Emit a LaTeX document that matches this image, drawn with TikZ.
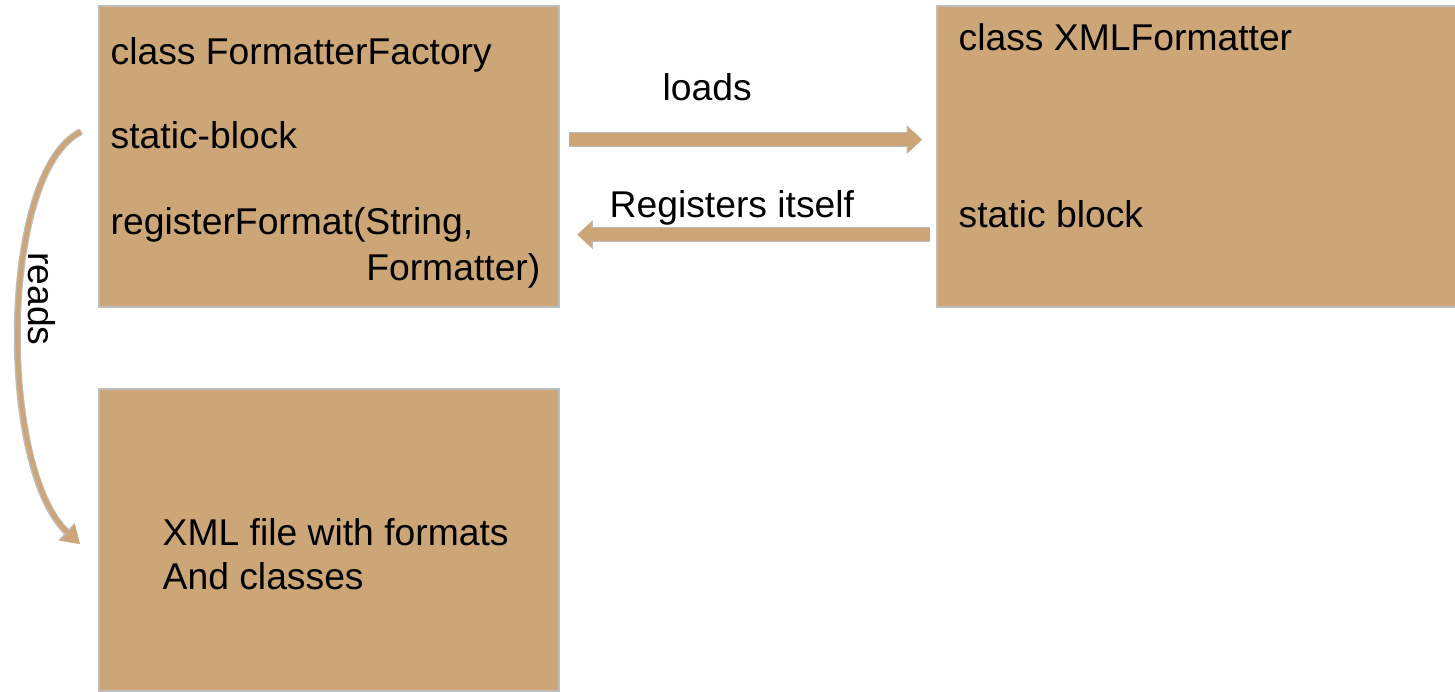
\documentclass[tikz,border=0pt]{standalone}
\usepackage{fontspec}
\setmainfont{Liberation Sans}
\usetikzlibrary{arrows.meta,calc,positioning}

\definecolor{boxtan}{HTML}{CCA677}
\definecolor{edgegray}{HTML}{BDBDBD}

\begin{document}
\begin{tikzpicture}[x=0.01cm, y=-0.01cm, font=\fontsize{10.6}{12.7}\selectfont,
    box/.style={draw=edgegray, line width=0.6pt, fill=boxtan, anchor=north west,
                inner sep=0pt, minimum width=4.6cm, minimum height=3.01cm},
    txt/.style={anchor=base west, inner sep=0pt},
    fat/.style={draw=boxtan, line width=0.13cm, -{Triangle[length=0.14cm, width=0.25cm]},
                preaction={draw=edgegray, line width=0.155cm, -{Triangle[length=0.155cm, width=0.28cm]}}},
    thinfat/.style={draw=boxtan, line width=0.045cm, -{Triangle[length=0.17cm, width=0.2cm]},
                preaction={draw=edgegray, line width=0.07cm, -{Triangle[length=0.185cm, width=0.23cm]}}}]
    \useasboundingbox (0,0) rectangle (1455,691);

    % boxes
    \node[box]                        (factory) at (98,5)   {};
    \node[box, minimum width=5.3cm]   (xmlfmt)  at (936,5)  {};
    \node[box, minimum height=3.02cm] (xmlfile) at (98,388) {};

    % box texts
    \node[txt] (factoryname) at (110,65)  {class FormatterFactory};
    \node[txt] (factorystat) at (110,149) {static-block};
    \node[txt] (factoryreg)  at (110,235) {registerFormat(String,};
    \node[txt, anchor=base east] (factoryreg2) at (541,280) {Formatter)};
    \node[txt] (xmlname)     at (958,51)  {class XMLFormatter};
    \node[txt] (xmlstat)     at (958,227) {static block};
    \node[txt] (filetext1)   at (162,545) {XML file with formats};
    \node[txt] (filetext2)   at (162,589) {And classes};

    % connectors
    \draw[fat] ($(factory.east)+(9,-17)$) -- ($(xmlfmt.west)+(-14,-17)$);
    \draw[fat] ($(xmlfmt.west)+(-6,78)$) -- ($(factory.east)+(17,78)$);
    \draw[thinfat] ($(factory.west)+(-17,-25)$)
        .. controls +(-82,40) and +(-82,-76) .. ($(xmlfile.west)+(-18,4)$);

    % connector labels
    \node[txt] (loadslbl) at (662,101) {loads};
    \node[txt] (reglbl)   at (609,217) {Registers itself};
    \node[rotate=-90, inner sep=0pt] (readslbl) at (42,299) {reads};
\end{tikzpicture}
\end{document}
